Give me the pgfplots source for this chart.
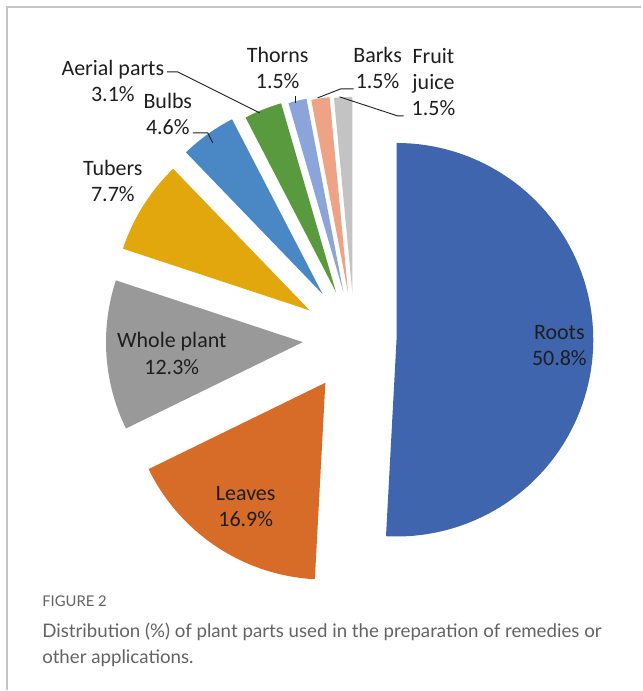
\documentclass[border=0pt]{standalone}
\usepackage{pgfplots}
\pgfplotsset{compat=1.18}
\usepackage{fontspec}
\setmainfont{Carlito}
\newfontfamily\capfont{Lato}
\definecolor{cRoots}{HTML}{3F65AF}
\definecolor{cLeaves}{HTML}{D76C29}
\definecolor{cWhole}{HTML}{999999}
\definecolor{cTubers}{HTML}{E2A70D}
\definecolor{cBulbs}{HTML}{4A87C5}
\definecolor{cAerial}{HTML}{5A9A3E}
\definecolor{cThorns}{HTML}{8BA4DA}
\definecolor{cBarks}{HTML}{EFA386}
\definecolor{cFruit}{HTML}{C3C3C3}
\definecolor{txt}{HTML}{1E1E1E}
\definecolor{capgray}{HTML}{626262}
\definecolor{framegray}{HTML}{C4C4C4}
% pie centre (px), radius (px), degrees per share unit (360/99.9)
\def\pcx{355}\def\pcy{339}\def\prad{197}\def\pdeg{3.603604}
% #1 share before, #2 share, #3 explode (px), #4 colour
\newcommand{\slice}[4]{%
  \pgfmathsetmacro{\aS}{90-#1*\pdeg}%
  \pgfmathsetmacro{\aE}{90-(#1+#2)*\pdeg}%
  \pgfmathsetmacro{\aM}{(\aS+\aE)/2}%
  \pgfmathsetmacro{\cx}{\pcx+#3*cos(\aM)}%
  \pgfmathsetmacro{\cy}{\pcy-#3*sin(\aM)}%
  \edef\doslice{\noexpand\addplot[fill=#4, draw=none, domain=\aE:\aS, samples=90, variable=\noexpand\t]
    ({\cx+\prad*cos(\noexpand\t)},{\cy-\prad*sin(\noexpand\t)}) -- (axis cs:\cx,\cy) -- cycle;}%
  \doslice
}
\begin{document}
\begin{tikzpicture}
\begin{axis}[
  hide axis, clip=false,
  x=0.5pt, y=0.5pt, y dir=reverse,
  xmin=0, xmax=642, ymin=0, ymax=691,
  scale only axis,
]
\path (axis cs:0,0) rectangle (axis cs:642,691);
\draw[framegray, line width=0.8pt] (axis cs:7,691) -- (axis cs:7,7) -- (axis cs:642,7);
% slices: share before, share, explode, colour
\slice{0}{50.8}{42}{cRoots}
\slice{50.8}{16.9}{53}{cLeaves}
\slice{67.7}{12.3}{52}{cWhole}
\slice{80.0}{7.7}{53}{cTubers}
\slice{87.7}{4.6}{55}{cBulbs}
\slice{92.3}{3.1}{50}{cAerial}
\slice{95.4}{1.5}{48}{cThorns}
\slice{96.9}{1.5}{46}{cBarks}
\slice{98.4}{1.5}{45}{cFruit}
% labels
\tikzset{lab/.style={font=\fontsize{11}{13.2}\selectfont, text=txt, align=center, inner sep=0pt}}
\node[lab] at (axis cs:560,346) {Roots\\50.8\%};
\node[lab] at (axis cs:246,507) {Leaves\\16.9\%};
\node[lab] at (axis cs:172,354) {Whole plant\\12.3\%};
\node[lab] at (axis cs:113,181) {Tubers\\7.7\%};
\node[lab] at (axis cs:113,81) {Aerial parts\\3.1\%};
\node[lab] at (axis cs:168,114) {Bulbs\\4.6\%};
\node[lab] at (axis cs:278,68) {Thorns\\1.5\%};
\node[lab] at (axis cs:378,68) {Barks\\1.5\%};
\node[lab] at (axis cs:434,82) {Fruit\\juice\\1.5\%};
% leader lines
\draw[txt, line width=0.45pt] (axis cs:167,72) -- (axis cs:178,72) -- (axis cs:260,113);
\draw[txt, line width=0.45pt] (axis cs:193,133) -- (axis cs:208,133) -- (axis cs:213,143);
\draw[txt, line width=0.45pt] (axis cs:296,96) -- (axis cs:296,103);
\draw[txt, line width=0.45pt] (axis cs:354,89) -- (axis cs:341,89) -- (axis cs:318,98);
\draw[txt, line width=0.45pt] (axis cs:404,116) -- (axis cs:398,116) -- (axis cs:340,97);
% caption
\node[anchor=base west, inner sep=0pt, text=capgray, font=\capfont\fontsize{7.4}{8}\selectfont] at (axis cs:42,607) {FIGURE 2};
\node[anchor=base west, inner sep=0pt, text=capgray, font=\capfont\fontsize{9.35}{10}\selectfont] at (axis cs:42,638) {Distribution (\%) of plant parts used in the preparation of remedies or};
\node[anchor=base west, inner sep=0pt, text=capgray, font=\capfont\fontsize{9.35}{10}\selectfont] at (axis cs:42,664) {other applications.};
\end{axis}
\end{tikzpicture}
\end{document}
